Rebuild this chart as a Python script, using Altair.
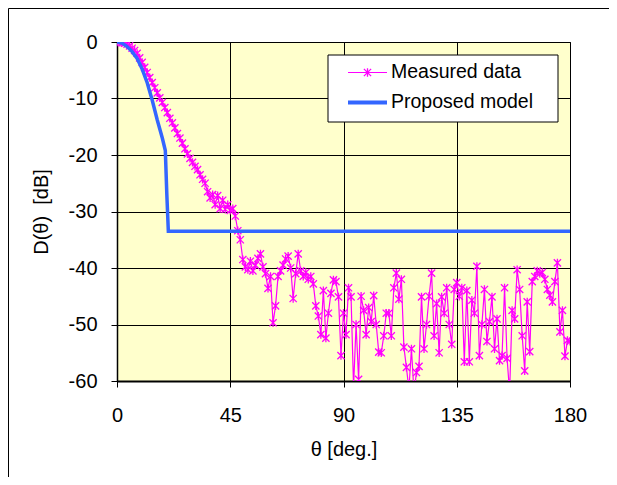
import altair as alt
import pandas as pd

# ---- data ----
theta_meas = list(range(0, 181))
d_meas = [
    0.0, 0.0, -0.1, -0.2, -0.4, -0.7, -1.1, -1.5, -2.0, -2.8,
    -3.6, -4.5, -5.4, -6.3, -7.2, -8.1, -9.0, -9.9, -10.7, -11.6,
    -12.5, -13.5, -14.3, -15.2, -16.2, -17.0, -17.9, -18.9, -19.8, -20.6,
    -21.3, -22.0, -22.6, -23.5, -24.3, -25.0, -26.5, -27.6, -27.0, -28.8,
    -27.2, -29.5, -28.0, -29.6, -28.8, -29.8, -29.5, -30.8, -33.4, -35.0,
    -38.5, -39.8, -40.3, -38.8, -40.5, -39.5, -38.3, -37.5, -39.8, -41.0,
    -43.6, -41.5, -49.7, -46.7, -41.5, -40.5, -39.5, -38.4, -37.9, -40.0,
    -45.4, -41.0, -37.5, -40.5, -41.5, -40.8, -42.0, -41.5, -42.8, -46.7,
    -48.5, -51.8, -44.0, -52.4, -48.0, -44.5, -42.1, -42.4, -45.1, -55.5,
    -48.0, -51.8, -43.5, -45.1, -61.0, -50.0, -59.7, -45.0, -47.5, -51.8,
    -47.0, -49.5, -44.9, -50.0, -54.9, -55.0, -52.0, -48.0, -48.0, -52.0,
    -43.5, -40.9, -45.5, -42.0, -54.0, -57.6, -61.5, -54.3, -62.0, -58.5,
    -57.4, -45.1, -54.3, -50.0, -45.0, -40.9, -52.0, -46.3, -55.0, -45.1,
    -48.0, -43.5, -50.0, -53.5, -43.8, -42.6, -45.0, -43.5, -56.6, -44.0,
    -56.6, -45.7, -48.0, -39.7, -55.5, -50.0, -43.8, -53.0, -49.5, -45.1,
    -54.3, -49.0, -56.4, -55.5, -43.5, -56.0, -62.0, -47.5, -49.0, -40.3,
    -43.8, -52.0, -58.2, -46.0, -54.8, -42.4, -41.5, -40.5, -41.0, -40.8,
    -42.0, -43.8, -44.8, -46.0, -42.4, -39.1, -51.3, -47.5, -55.6, -52.8,
    -53.0,
]
theta_model = [0, 2, 4, 6, 8, 10, 12, 14, 16, 18, 19.2, 19.8, 20.4, 180]
d_model = [0.0, -0.2, -0.8, -1.7, -2.9, -4.8, -7.2, -10.3, -13.8, -17.0, -19.2, -27.0, -33.5, -33.5]

x_ticks = [0, 45, 90, 135, 180]
y_ticks = [-60, -50, -40, -30, -20, -10, 0]
legend_labels = ["Measured data", "Proposed model"]

MAGENTA = "#FF00FF"
BLUE = "#3366FF"
FONT = "Liberation Sans"
STAR = "M-1,-1L1,1M-1,1L1,-1M0,-1.15L0,1.15"

meas = pd.DataFrame({"theta": theta_meas, "d": d_meas})
model = pd.DataFrame({"theta": theta_model, "d": d_model})

xscale = alt.Scale(domain=[0, 180], nice=False)
yscale = alt.Scale(domain=[-60, 0], nice=False)

xaxis = alt.Axis(values=x_ticks, title="θ [deg.]", grid=True, labelPadding=18,
                 titlePadding=14, domainWidth=2, tickSize=6, labelFlush=False,
                 labelExpr="toString(datum.value)")
yaxis = alt.Axis(values=y_ticks, title="D(θ)\u00a0\u00a0[dB]", grid=True, labelPadding=14,
                 titlePadding=17, tickSize=6, domainWidth=1.5, labelFlush=False,
                 labelExpr="toString(datum.value)")

x_enc = alt.X("theta:Q", scale=xscale, axis=xaxis)
y_enc = alt.Y("d:Q", scale=yscale, axis=yaxis)

meas_line = alt.Chart(meas).mark_line(color=MAGENTA, strokeWidth=1.2, clip=True).encode(x=x_enc, y=y_enc)
meas_pts = alt.Chart(meas).mark_point(shape=STAR, filled=False, stroke=MAGENTA, strokeWidth=1.3,
                                      size=52, opacity=1, clip=True).encode(x="theta:Q", y="d:Q")
model_line = alt.Chart(model).mark_line(color=BLUE, strokeWidth=3.5, clip=True).encode(x="theta:Q", y="d:Q")

one = pd.DataFrame({"k": [0]})

# legend (drawn as decoration in pixel space)
leg_box = alt.Chart(one).mark_rect(fill="white", stroke="black", strokeWidth=1).encode(
    x=alt.value(211), x2=alt.value(441), y=alt.value(13), y2=alt.value(80))
leg_l1 = alt.Chart(one).mark_rule(color=MAGENTA, strokeWidth=1.2).encode(
    x=alt.value(231), x2=alt.value(270), y=alt.value(30.5))
leg_p1 = alt.Chart(one).mark_point(shape=STAR, filled=False, stroke=MAGENTA, strokeWidth=1.3,
                                   size=52, opacity=1).encode(x=alt.value(250.5), y=alt.value(30.5))
leg_l2 = alt.Chart(one).mark_rule(color=BLUE, strokeWidth=4).encode(
    x=alt.value(231), x2=alt.value(270), y=alt.value(60.5))
leg_t1 = alt.Chart(one).mark_text(align="left", baseline="middle", fontSize=19.5, font=FONT,
                                  color="black").encode(x=alt.value(274), y=alt.value(30),
                                                        text=alt.value(legend_labels[0]))
leg_t2 = alt.Chart(one).mark_text(align="left", baseline="middle", fontSize=19.5, font=FONT,
                                  color="black").encode(x=alt.value(274), y=alt.value(60),
                                                        text=alt.value(legend_labels[1]))

# outer frame of the figure
frame = alt.Chart(one).mark_rect(fill="transparent", stroke="black", strokeWidth=1).encode(
    x=alt.value(-108.5), x2=alt.value(492.5), y=alt.value(-33.5), y2=alt.value(520))

chart = alt.layer(
    frame, meas_line, meas_pts, model_line,
    leg_box, leg_l1, leg_p1, leg_l2, leg_t1, leg_t2,
).properties(
    width=453, height=339,
    padding={"left": 109, "top": 34, "right": 39, "bottom": 96},
    autosize=alt.AutoSizeParams(type="none"),
    background="white",
).configure_view(
    fill="#FFFFCC", stroke="black", strokeWidth=1,
).configure_axis(
    gridColor="black", gridOpacity=1, gridWidth=1,
    domainColor="black", tickColor="black",
    labelFont=FONT, labelFontSize=20, labelColor="black",
    titleFont=FONT, titleFontSize=20, titleFontWeight="normal", titleColor="black",
)

chart.save("out.html", embed_options={"renderer": "svg", "actions": False})
